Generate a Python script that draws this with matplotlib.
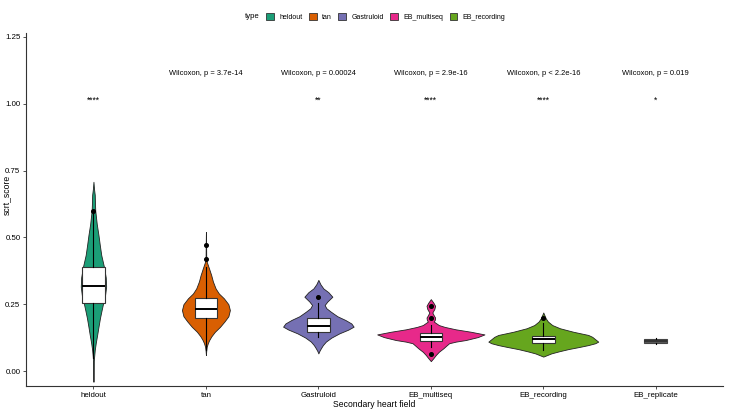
import matplotlib
matplotlib.use("Agg")
import matplotlib.pyplot as plt
from matplotlib.patches import Patch

plt.rcParams["font.family"] = ["Liberation Sans", "DejaVu Sans"]

groups = ["heldout", "tan", "Gastruloid", "EB_multiseq", "EB_recording", "EB_replicate"]
colors = ["#1B9E77", "#D95F02", "#7570B3", "#E7298A", "#66A61E"]

# violin outlines: y values and half widths (px)
held_y = [-0.04, 0.0, 0.035, 0.055, 0.079, 0.105, 0.135, 0.165, 0.198, 0.225, 0.254, 0.28,
          0.316, 0.35, 0.39, 0.434, 0.47, 0.509, 0.55, 0.6, 0.63, 0.659, 0.68, 0.708]
held_w = [0.0, 0.1, 0.3, 0.7, 1.3, 2.3, 3.7, 5.0, 6.5, 8.0, 9.7, 11.5,
          12.7, 12.3, 10.5, 7.8, 6.4, 5.0, 3.3, 1.8, 1.5, 1.3, 0.6, 0.0]
tan_y = [0.06, 0.075, 0.091, 0.105, 0.116, 0.13, 0.147, 0.165, 0.185, 0.205, 0.228, 0.25,
         0.272, 0.29, 0.309, 0.335, 0.359, 0.385, 0.409, 0.43, 0.47, 0.52]
tan_w = [0.0, 0.3, 0.8, 2.0, 3.3, 5.5, 9.0, 14.0, 18.5, 22.5, 24.0, 22.5,
         18.0, 13.0, 9.7, 7.0, 5.3, 3.0, 0.8, 0.3, 0.2, 0.0]
gas_y = [0.066, 0.075, 0.085, 0.097, 0.11, 0.125, 0.141, 0.155, 0.166, 0.178, 0.191, 0.205,
         0.222, 0.235, 0.247, 0.26, 0.278, 0.295, 0.309, 0.325, 0.341]
gas_w = [0.0, 1.0, 2.5, 4.5, 7.5, 13.0, 21.0, 30.0, 35.3, 33.0, 27.0, 19.0,
         12.5, 8.0, 6.3, 9.0, 14.0, 10.0, 5.0, 2.0, 0.0]
mul_y = [0.037, 0.048, 0.06, 0.072, 0.085, 0.095, 0.104, 0.11, 0.116, 0.127, 0.137, 0.147,
         0.156, 0.165, 0.172, 0.185, 0.192, 0.2, 0.208, 0.219, 0.232, 0.244, 0.256, 0.269]
mul_w = [0.0, 2.5, 5.0, 8.0, 12.5, 15.5, 18.3, 25.0, 35.0, 47.0, 53.7, 40.0,
         25.0, 14.0, 8.0, 3.0, 4.0, 4.3, 3.0, 1.5, 3.5, 4.3, 2.5, 0.0]
rec_y = [0.054, 0.06, 0.066, 0.074, 0.082, 0.09, 0.097, 0.104, 0.11, 0.116, 0.122, 0.128,
         0.135, 0.147, 0.16, 0.172, 0.185, 0.197, 0.21, 0.219]
rec_w = [0.0, 4.0, 8.0, 16.0, 25.0, 36.0, 45.0, 52.0, 55.0, 53.0, 51.0, 49.0,
         45.0, 30.0, 16.7, 9.0, 4.7, 2.5, 1.0, 0.0]

violin_y = [held_y, tan_y, gas_y, mul_y, rec_y]
violin_w = [held_w, tan_w, gas_w, mul_w, rec_w]

# box stats: q1, median, q3, lower whisker, upper whisker, outliers
q1 = [0.254, 0.197, 0.147, 0.114, 0.104, 0.106]
med = [0.318, 0.233, 0.170, 0.128, 0.118, 0.113]
q3 = [0.389, 0.275, 0.197, 0.143, 0.132, 0.120]
whislo = [0.05, 0.08, 0.126, 0.091, 0.079, 0.102]
whishi = [0.59, 0.39, 0.253, 0.172, 0.18, 0.124]
outliers = [[0.60], [0.418, 0.470], [0.278], [0.065, 0.200, 0.244], [0.197], []]

pvals = ["Wilcoxon, p = 3.7e-14", "Wilcoxon, p = 0.00024", "Wilcoxon, p = 2.9e-16",
         "Wilcoxon, p < 2.2e-16", "Wilcoxon, p = 0.019"]
signif = ["****", "", "**", "****", "****", "*"]

px_per_unit = 112.6

fig = plt.figure(figsize=(7.51, 4.12), dpi=100)
ax = fig.add_axes([0.0346, 0.0631, 0.9284, 0.857])

for i in range(5):
    vstats = [{"coords": violin_y[i], "vals": violin_w[i], "mean": med[i], "median": med[i],
               "min": min(violin_y[i]), "max": max(violin_y[i])}]
    wd = 2 * max(violin_w[i]) / px_per_unit
    parts = ax.violin(vstats, positions=[i + 1], widths=[wd], showmeans=False,
                      showextrema=False, showmedians=False)
    for b in parts["bodies"]:
        b.set_facecolor(colors[i])
        b.set_edgecolor("#222222")
        b.set_linewidth(0.6)
        b.set_alpha(1)
        b.set_zorder(1)

bstats = []
for i in range(6):
    bstats.append({"med": med[i], "q1": q1[i], "q3": q3[i], "whislo": whislo[i],
                   "whishi": whishi[i], "fliers": outliers[i]})
bp = ax.bxp(bstats, positions=range(1, 7), widths=0.2, patch_artist=True, showcaps=False,
            boxprops=dict(facecolor="white", edgecolor="#333333", linewidth=0.8),
            medianprops=dict(color="black", linewidth=1.4),
            whiskerprops=dict(color="black", linewidth=0.8),
            flierprops=dict(marker="o", markersize=2.6, markerfacecolor="black",
                            markeredgecolor="black"))
for art in bp["boxes"] + bp["medians"] + bp["whiskers"] + bp["fliers"]:
    art.set_zorder(3)
bp["boxes"][5].set_facecolor("#595959")
bp["boxes"][5].set_edgecolor("#444444")
bp["medians"][5].set_color("#333333")

for i, t in enumerate(pvals):
    ax.text(i + 2, 1.115, t, ha="center", va="center", fontsize=5.4)
for i, s in enumerate(signif):
    if s:
        ax.text(i + 1, 1.012, s, ha="center", va="center", fontsize=6.2)

ax.set_xlim(0.4, 6.6)
ax.set_ylim(-0.056, 1.265)
ax.set_xticks(range(1, 7))
ax.set_xticklabels(groups, fontsize=5.7)
ax.set_yticks([0, 0.25, 0.5, 0.75, 1.0, 1.25])
ax.set_yticklabels(["0.00", "0.25", "0.50", "0.75", "1.00", "1.25"], fontsize=5.7)
ax.tick_params(length=2.5, width=0.6, pad=1.5, colors="#333333", labelcolor="black")
for sp in ["top", "right"]:
    ax.spines[sp].set_visible(False)
for sp in ["left", "bottom"]:
    ax.spines[sp].set_linewidth(0.8)
    ax.spines[sp].set_color("#333333")
ax.set_xlabel("Secondary heart field", fontsize=6.2, labelpad=1)
ax.set_ylabel("scrt_score", fontsize=6.2)
ax.yaxis.set_label_coords(-0.021, 0.54)

handles = [Patch(facecolor=c, edgecolor="#333333", linewidth=0.6) for c in colors]
fig.legend(handles, groups[:5], ncol=5, loc="center", bbox_to_anchor=(0.514, 0.959),
           frameon=False, fontsize=5, handlelength=1.1, handleheight=1.1,
           handletextpad=0.8, columnspacing=0.9)
fig.text(0.326, 0.959, "type", ha="left", va="center", fontsize=5.6)

fig.savefig("out.png", dpi=100)
